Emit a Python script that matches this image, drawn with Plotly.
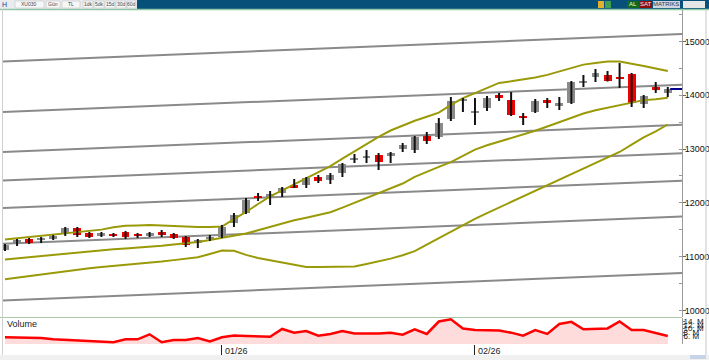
import plotly.graph_objects as go

W, H = 709, 360

# ---------------- data ----------------
open_ = [11124, 11254, 11329, 11320, 11329, 11440, 11533, 11440, 11403, 11422,
         11459, 11403, 11403, 11459, 11422, 11366, 11254, 11338, 11366, 11626,
         11812, 12128, 12110, 12184, 12332, 12332, 12481, 12425, 12555, 12806,
         12844, 12890, 12871, 13002, 12983, 13243, 13225, 13559, 13894, 13671,
         13764, 14005, 13912, 13615, 13689, 13912, 13801, 13857, 14238, 14340,
         14377, 14321, 14396, 13838, 14154, 14043]
high_ = [11236, 11329, 11347, 11366, 11403, 11552, 11552, 11459, 11459, 11440,
         11477, 11440, 11459, 11496, 11440, 11385, 11329, 11403, 11590, 11812,
         12091, 12184, 12221, 12295, 12444, 12481, 12518, 12555, 12741, 12909,
         12983, 12927, 12946, 13113, 13243, 13318, 13578, 13968, 13949, 13949,
         13987, 14043, 14061, 13671, 13931, 13949, 13968, 14265, 14377, 14488,
         14451, 14600, 14414, 14005, 14247, 14154]
low_ = [11106, 11199, 11236, 11254, 11310, 11385, 11366, 11347, 11366, 11366,
        11329, 11347, 11366, 11366, 11329, 11180, 11161, 11292, 11347, 11552,
        11793, 12035, 11961, 12110, 12277, 12277, 12370, 12351, 12481, 12741,
        12741, 12611, 12741, 12946, 12927, 13095, 13187, 13522, 13689, 13448,
        13708, 13894, 13615, 13448, 13671, 13764, 13726, 13838, 14154, 14247,
        14256, 14135, 13782, 13764, 14043, 13968]
close_ = [11217, 11310, 11254, 11329, 11385, 11533, 11403, 11366, 11422, 11385,
          11366, 11394, 11440, 11403, 11347, 11217, 11310, 11347, 11552, 11775,
          12054, 12091, 12165, 12277, 12295, 12463, 12407, 12518, 12723, 12816,
          12853, 12760, 12927, 13076, 13225, 13150, 13485, 13894, 13912, 13680,
          13950, 13950, 13634, 13578, 13894, 13857, 13857, 14247, 14247, 14414,
          14265, 14303, 13857, 13987, 14098, 14117]

bb_upper = [11319, 11342, 11364, 11386, 11409, 11431, 11455, 11477, 11503, 11548,
            11574, 11582, 11589, 11578, 11567, 11561, 11552, 11552, 11561, 11700,
            11831, 11979, 12121, 12232, 12345, 12457, 12570, 12682, 12823, 12959,
            13095, 13225, 13345, 13435, 13526, 13600, 13676, 13823, 13948, 14039,
            14134, 14230, 14260, 14290, 14331, 14379, 14440, 14515, 14570, 14600,
            14630, 14626, 14593, 14546, 14496, 14451]
bb_middle = [10948, 10970, 10992, 11015, 11037, 11059, 11083, 11106, 11126, 11139,
             11154, 11167, 11180, 11202, 11225, 11247, 11271, 11310, 11349, 11390,
             11431, 11490, 11557, 11624, 11678, 11725, 11771, 11825, 11912, 12002,
             12089, 12174, 12262, 12360, 12483, 12580, 12669, 12758, 12873, 12990,
             13070, 13137, 13204, 13271, 13340, 13420, 13503, 13583, 13661, 13721,
             13769, 13821, 13870, 13910, 13927, 13953]
bb_lower = [10580, 10611, 10643, 10674, 10704, 10732, 10758, 10786, 10810, 10829,
            10847, 10866, 10883, 10910, 10936, 10964, 10990, 11050, 11113, 11111,
            11033, 10974, 10935, 10896, 10851, 10808, 10808, 10808, 10808, 10819,
            10866, 10912, 10964, 11026, 11102, 11225, 11345, 11468, 11591, 11704,
            11810, 11914, 12020, 12124, 12230, 12334, 12435, 12537, 12639, 12741,
            12844, 12946, 13083, 13217, 13330, 13457]

volume_m = [5.3, 5.1, 5.1, 4.9, 4.2, 3.8, 3.5, 3.1, 2.9, 2.6,
            4.2, 4.2, 6.9, 2.6, 3.8, 3.8, 4.9, 3.1, 5.3, 6.2,
            6.0, 5.8, 5.6, 9.8, 7.8, 8.7, 6.2, 7.1, 8.7, 7.4,
            7.3, 7.4, 7.8, 6.7, 9.6, 7.1, 13.8, 15.0, 10.0, 9.2,
            9.1, 8.9, 7.8, 6.2, 9.2, 7.1, 12.5, 13.6, 9.6, 9.8,
            10.1, 13.8, 9.2, 9.2, 7.6, 6.0]

# parallel channel lines: value at the left and right edge of the chart
channel_left = [14628, 13689, 12946, 12418, 11905, 11241, 10186]
channel_right = [15139, 14195, 13451, 12923, 12410, 11747, 10697]

date_tick_index = [18, 39]
date_tick_labels = ["01/26", "02/26"]
price_ticks = [10000, 11000, 12000, 13000, 14000, 15000]
volume_ticks = [6, 8, 10, 12, 14]
volume_tick_labels = ["6. M", "8. M", "10. M", "12. M", "14. M"]

# ---------------- helpers ----------------
def fx(p):
    return p / W


def fy(p):
    return 1 - p / H


X_LO, X_HI = -0.166, 56.18
TOP = 9  # bottom edge of the toolbar strip, px
n = len(close_)
idx = list(range(n))
FONT = "Liberation Sans, Arial, sans-serif"

fig = go.Figure()

# Bollinger bands
for band in (bb_upper, bb_middle, bb_lower):
    fig.add_trace(go.Scatter(x=idx, y=band, mode="lines",
                             line=dict(color="#9a9a08", width=2),
                             hoverinfo="skip", yaxis="y"))

# wicks
wx, wy = [], []
for i in idx:
    wx += [i, i, None]
    wy += [low_[i], high_[i], None]
fig.add_trace(go.Scatter(x=wx, y=wy, mode="lines",
                         line=dict(color="#111111", width=2),
                         hoverinfo="skip", yaxis="y"))

# bodies
body_base = [min(o, c) for o, c in zip(open_, close_)]
body_len = [max(abs(c - o), 32) for o, c in zip(open_, close_)]
body_col = ["#8a8a8a" if c >= o else "#f00000" for o, c in zip(open_, close_)]
fig.add_trace(go.Bar(x=idx, y=body_len, base=body_base, width=0.66,
                     marker=dict(color=body_col, line=dict(width=0)),
                     hoverinfo="skip", yaxis="y"))

# volume
fig.add_trace(go.Scatter(x=idx, y=volume_m, mode="lines",
                         line=dict(color="#ff0000", width=2.5),
                         fill="tozeroy", fillcolor="rgba(255,40,40,0.16)",
                         hoverinfo="skip", yaxis="y2"))

shapes = []
# channel lines
for a, b in zip(channel_left, channel_right):
    shapes.append(dict(type="line", xref="x", yref="y", x0=X_LO, x1=X_HI,
                       y0=a, y1=b, line=dict(color="#8a8a8a", width=2),
                       layer="below"))
# last price marker
shapes.append(dict(type="line", xref="x", yref="y", x0=idx[-1] + 0.2, x1=X_HI,
                   y0=close_[-1], y1=close_[-1],
                   line=dict(color="#00008b", width=2)))

# chrome: toolbar, separators, borders
shapes += [
    dict(type="rect", xref="paper", yref="paper", x0=0, x1=fx(137), y0=fy(TOP), y1=1,
         fillcolor="#e9ecef", line=dict(width=0)),
    dict(type="rect", xref="paper", yref="paper", x0=fx(137), x1=1, y0=fy(TOP), y1=1,
         fillcolor="#06507a", line=dict(width=0)),
    dict(type="line", xref="paper", yref="paper", x0=0, x1=1, y0=fy(TOP + 0.5), y1=fy(TOP + 0.5),
         line=dict(color="#8fc7a6", width=1.5)),
    dict(type="line", xref="paper", yref="paper", x0=0, x1=fx(682), y0=fy(317.5), y1=fy(317.5),
         line=dict(color="#a9c9a9", width=1)),
    dict(type="line", xref="paper", yref="paper", x0=fx(2.5), x1=fx(2.5), y0=fy(355), y1=fy(TOP),
         line=dict(color="#cfcfcf", width=1)),
    dict(type="line", xref="paper", yref="paper", x0=fx(706), x1=fx(706), y0=fy(355), y1=fy(TOP),
         line=dict(color="#c8c8c8", width=1)),
    dict(type="rect", xref="paper", yref="paper", x0=0, x1=1, y0=0, y1=fy(355),
         fillcolor="#f0f0f0", line=dict(width=0)),
    # toolbar buttons on the right
    dict(type="rect", xref="paper", yref="paper", x0=fx(598), x1=fx(604), y0=fy(TOP - 1), y1=fy(1),
         fillcolor="#e0b030", line=dict(width=0)),
    dict(type="rect", xref="paper", yref="paper", x0=fx(605), x1=fx(611), y0=fy(TOP - 1), y1=fy(1),
         fillcolor="#3ca050", line=dict(width=0)),
    dict(type="rect", xref="paper", yref="paper", x0=fx(627), x1=fx(639), y0=fy(TOP - 1), y1=fy(1),
         fillcolor="#0f6a1f", line=dict(width=0)),
    dict(type="rect", xref="paper", yref="paper", x0=fx(640), x1=fx(652), y0=fy(TOP - 1), y1=fy(1),
         fillcolor="#8a1010", line=dict(width=0)),
    dict(type="rect", xref="paper", yref="paper", x0=fx(653), x1=fx(680), y0=fy(TOP - 1), y1=fy(1),
         fillcolor="#cfd6df", line=dict(width=0)),
    dict(type="rect", xref="paper", yref="paper", x0=fx(683), x1=fx(705), y0=fy(TOP - 1), y1=fy(1),
         fillcolor="#e6e6e6", line=dict(width=0)),
    # small buttons bottom right
    dict(type="rect", xref="paper", yref="paper", x0=fx(690), x1=fx(706), y0=fy(359), y1=fy(355),
         fillcolor="#c9d3e6", line=dict(width=0)),
]
# toolbar boxes on the left
for a, b in [(15, 44), (46, 60), (62, 80), (83, 93), (94, 104), (105, 115), (116, 126), (127, 136)]:
    shapes.append(dict(type="rect", xref="paper", yref="paper", x0=fx(a), x1=fx(b),
                       y0=fy(TOP - 1), y1=fy(1), fillcolor="#f7f7f7",
                       line=dict(color="#b9b9b9", width=0.5)))

annotations = []
for pos, lab in zip(date_tick_index, date_tick_labels):
    annotations.append(dict(x=pos, xref="x", y=fy(351), yref="paper", text=lab,
                            showarrow=False, xanchor="left", yanchor="middle",
                            xshift=1, font=dict(family=FONT, size=9, color="#222")))
annotations.append(dict(x=fx(5), xref="paper", y=fy(324), yref="paper", text="Volume",
                        showarrow=False, xanchor="left", yanchor="middle",
                        font=dict(family=FONT, size=9, color="#222")))
for xx, txt, col in [(633, "AL", "#e8ffe8"), (646, "SAT", "#ffe0e0"), (666, "MATRIKS", "#334")]:
    annotations.append(dict(x=fx(xx), xref="paper", y=fy(TOP / 2), yref="paper", text=txt,
                            showarrow=False, xanchor="center", yanchor="middle",
                            font=dict(family=FONT, size=6, color=col)))
for xx, txt in [(29, "XU030"), (53, "Gün"), (71, "TL"), (88, "1dk"), (99, "5dk"),
                (110, "15d"), (121, "30d"), (131, "60d")]:
    annotations.append(dict(x=fx(xx), xref="paper", y=fy(TOP / 2), yref="paper", text=txt,
                            showarrow=False, xanchor="center", yanchor="middle",
                            font=dict(family=FONT, size=5, color="#444")))
annotations.append(dict(x=fx(4), xref="paper", y=fy(TOP / 2), yref="paper", text="H",
                        showarrow=False, xanchor="center", yanchor="middle",
                        font=dict(family=FONT, size=7, color="#1a3d8f")))

fig.update_layout(
    width=W, height=H,
    margin=dict(l=0, r=0, t=0, b=0),
    paper_bgcolor="white", plot_bgcolor="white",
    showlegend=False, barmode="overlay", bargap=0,
    font=dict(family=FONT, size=9, color="#111"),
    xaxis=dict(domain=[fx(3), fx(682)], range=[X_LO, X_HI], anchor="y2",
               showgrid=False, zeroline=False, showline=False,
               tickmode="array", tickvals=date_tick_index, ticktext=date_tick_labels,
               showticklabels=False, ticks="outside", ticklen=11,
               tickcolor="#222", tickwidth=1),
    yaxis=dict(domain=[fy(317), fy(TOP + 1)], range=[9879, 15771 - 18.587 * (TOP + 1)],
               anchor="x", side="right",
               showgrid=False, zeroline=False, showline=True, linecolor="#9a9a9a",
               tickmode="array", tickvals=price_ticks, tickformat="d",
               ticks="outside", ticklen=3, tickcolor="#666", ticklabelstandoff=-3,
               tickfont=dict(family=FONT, size=9, color="#111"),
               minor=dict(ticks="inside", ticklen=3, tickcolor="#999", dtick=500,
                          tick0=10000, showgrid=False)),
    yaxis2=dict(domain=[fy(344), fy(318)], range=[1.68, 15.7], anchor="x", side="right",
                showgrid=False, zeroline=False, showline=True, linecolor="#9a9a9a",
                tickmode="array", tickvals=volume_ticks, ticktext=volume_tick_labels,
                ticks="outside", ticklen=2, tickcolor="#666", ticklabelstandoff=-3,
                tickfont=dict(family=FONT, size=8, color="#111")),
    shapes=shapes,
    annotations=annotations,
)

fig.write_html("out.html", config={"displayModeBar": False},
               post_script="document.body.style.margin='0';document.body.style.overflow='hidden';")
